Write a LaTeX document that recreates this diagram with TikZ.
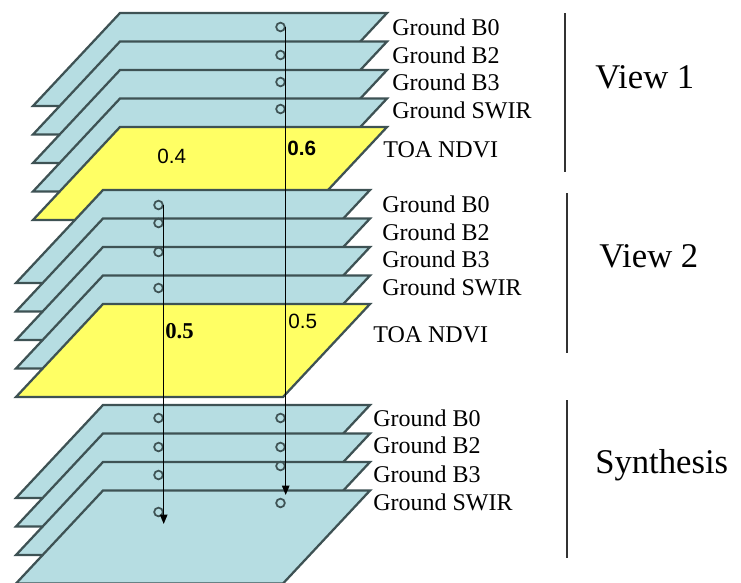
\documentclass[tikz,border=0pt]{standalone}
\usepackage{fontspec}
\setmainfont{Liberation Serif}
\newfontfamily\weightfont{Liberation Sans}
\usetikzlibrary{positioning,calc,arrows.meta}
\definecolor{layerblue}{RGB}{182,221,226}
\definecolor{layeryellow}{RGB}{255,255,100}
\definecolor{layeredge}{RGB}{62,82,84}
\tikzset{LAYER/.style={draw=layeredge, line width=1.7pt, line join=miter}}
\tikzset{BAND/.style={anchor=base west, inner sep=0pt, font=\fontsize{18}{20}\selectfont}}
\tikzset{VIEW/.style={anchor=base west, inner sep=0pt, font=\fontsize{26}{28}\selectfont}}
\tikzset{WEIGHT/.style={anchor=base west, inner sep=0pt, font=\weightfont\fontsize{15.5}{17}\selectfont}}
\tikzset{PICK/.style={circle, draw=layeredge, line width=1.3pt, minimum size=6.5pt, inner sep=0pt}}
\tikzset{ARROW/.style={line width=1.1pt, -{Triangle[length=7pt,width=5.5pt]}}}
\tikzset{RULE/.style={draw=black!80, line width=1.2pt}}

\begin{document}
\begin{tikzpicture}[x=0.75pt, y=-0.75pt]
    \useasboundingbox (0,0) rectangle (741,582);

    % layers, drawn from the top of the stack down
    \foreach \lx/\ly/\lc in {120/13/layerblue, 120/41.5/layerblue, 120/70/layerblue, 120/98.5/layerblue, 120/127/layeryellow,
                             103/190/layerblue, 103/218.5/layerblue, 103/247/layerblue, 103/275.5/layerblue, 103/304/layeryellow,
                             103/405/layerblue, 103/433.5/layerblue, 103/462/layerblue, 103/490.5/layerblue}
        \draw[LAYER, fill=\lc] (\lx,\ly) -- ++(267,0) -- ++(-87,93) -- ++(-267,0) -- cycle;

    % view 1
    \node[BAND] (v1_b0)   at (392,35)  {Ground B0};
    \node[BAND] (v1_b2)   at (392,63)  {Ground B2};
    \node[BAND] (v1_b3)   at (392,90)  {Ground B3};
    \node[BAND] (v1_swir) at (392,118) {Ground SWIR};
    \node[BAND] (v1_ndvi) at (383,157) {TOA NDVI};
    \node[VIEW] (n_view1) at (595,88)  {View 1};

    % view 2
    \node[BAND] (v2_b0)   at (382,212) {Ground B0};
    \node[BAND] (v2_b2)   at (382,240) {Ground B2};
    \node[BAND] (v2_b3)   at (382,267) {Ground B3};
    \node[BAND] (v2_swir) at (382,295) {Ground SWIR};
    \node[BAND] (v2_ndvi) at (373,342) {TOA NDVI};
    \node[VIEW] (n_view2) at (599,267) {View 2};

    % synthesis
    \node[BAND] (s_b0)   at (373,426) {Ground B0};
    \node[BAND] (s_b2)   at (373,453) {Ground B2};
    \node[BAND] (s_b3)   at (373,482) {Ground B3};
    \node[BAND] (s_swir) at (373,510) {Ground SWIR};
    \node[VIEW] (n_synth) at (595,473) {Synthesis};

    \draw[RULE] (565,13) -- (565,172);
    \draw[RULE] (567,193) -- (567,353);
    \draw[RULE] (567,400) -- (567,558);

    % picked pixels
    \foreach \py [count=\i] in {27,55,82,109,418,447,466,503}
        \node[PICK] (r\i) at (280.5,\py) {};
    \foreach \py [count=\i] in {205,223,252,288,418,447,475,512}
        \node[PICK] (l\i) at (158.5,\py) {};

    \coordinate (r_end) at (285,495);
    \coordinate (l_end) at (163,524);
    \draw[ARROW] (r1.east) -- (r1.east|-r_end);
    \draw[ARROW] (l1.east) -- (l1.east|-l_end);

    % weights
    \node[WEIGHT] (w_v1a) at (157,163) {0.4};
    \node[WEIGHT, font=\weightfont\bfseries\fontsize{15.5}{17}\selectfont] (w_v1b) at (287,155) {0.6};
    \node[WEIGHT, font=\bfseries\fontsize{17}{18}\selectfont] (w_v2a) at (165,338) {0.5};
    \node[WEIGHT] (w_v2b) at (288,328) {0.5};
\end{tikzpicture}
\end{document}
